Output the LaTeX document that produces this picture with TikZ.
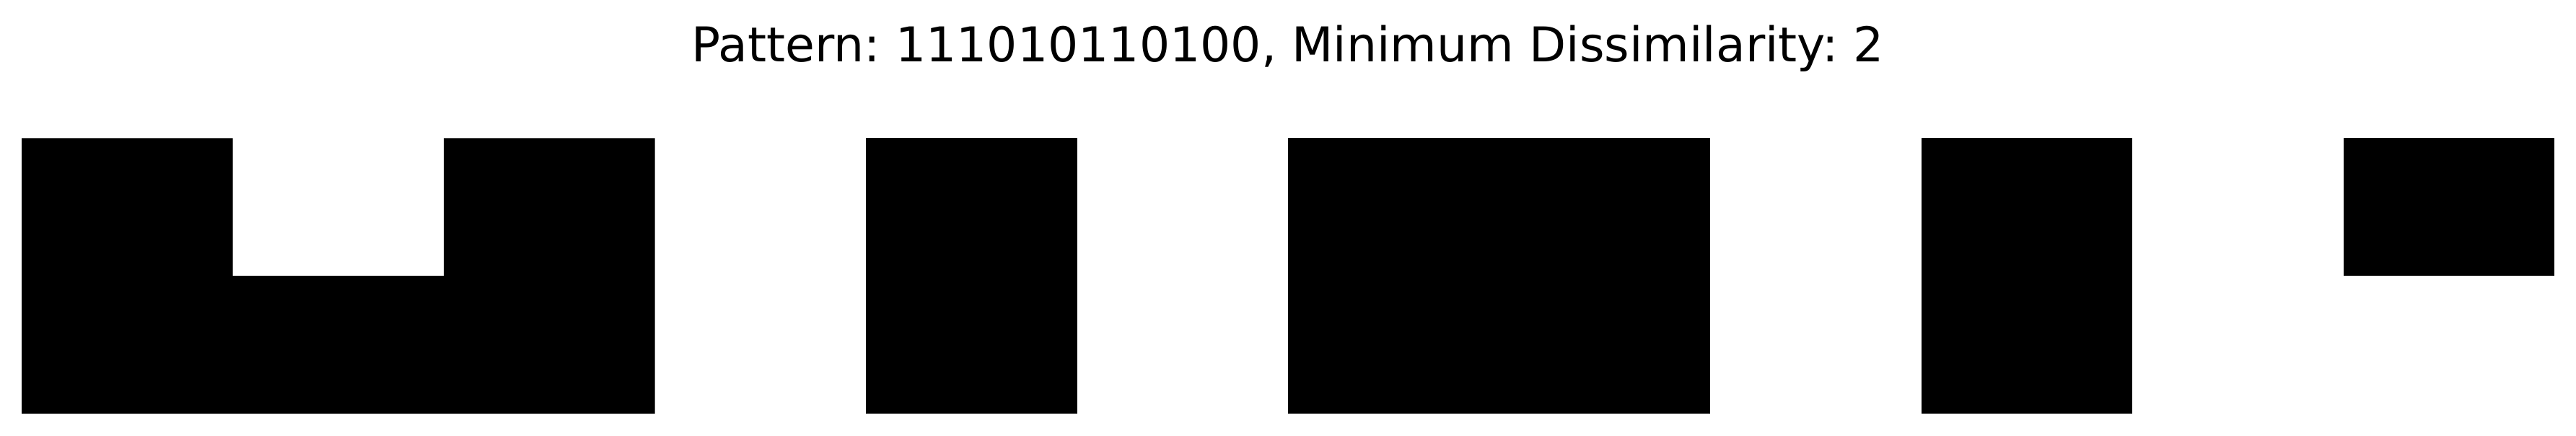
\documentclass[tikz,border=0pt]{standalone}
\usepackage{fontspec}
\setmainfont{DejaVu Sans}
\usetikzlibrary{positioning}
\frenchspacing

\begin{document}
\begin{tikzpicture}
    \useasboundingbox (0,0) rectangle (35.7,6.03);

    % draw title
    \node[anchor=base, inner sep=0pt, font=\fontsize{18.9pt}{22pt}\selectfont] (title) at (17.85,5.17) {Pattern: 111010110100, Minimum Dissimilarity: 2};

    % draw cells
    \begin{scope}[shift={(0.30,0.30)}, xscale=2.925, yscale=1.9075]
      \fill[black] (0,0) -- (3,0) -- (3,2) -- (2,2) -- (2,1) -- (1,1) -- (1,2) -- (0,2) -- cycle;
      \foreach \x/\w in {4/1,6/2,9/1}
        \fill[black] (\x,0) rectangle (\x+\w,2);
      \fill[black] (11,1) rectangle (12,2);
    \end{scope}
\end{tikzpicture}
\end{document}
